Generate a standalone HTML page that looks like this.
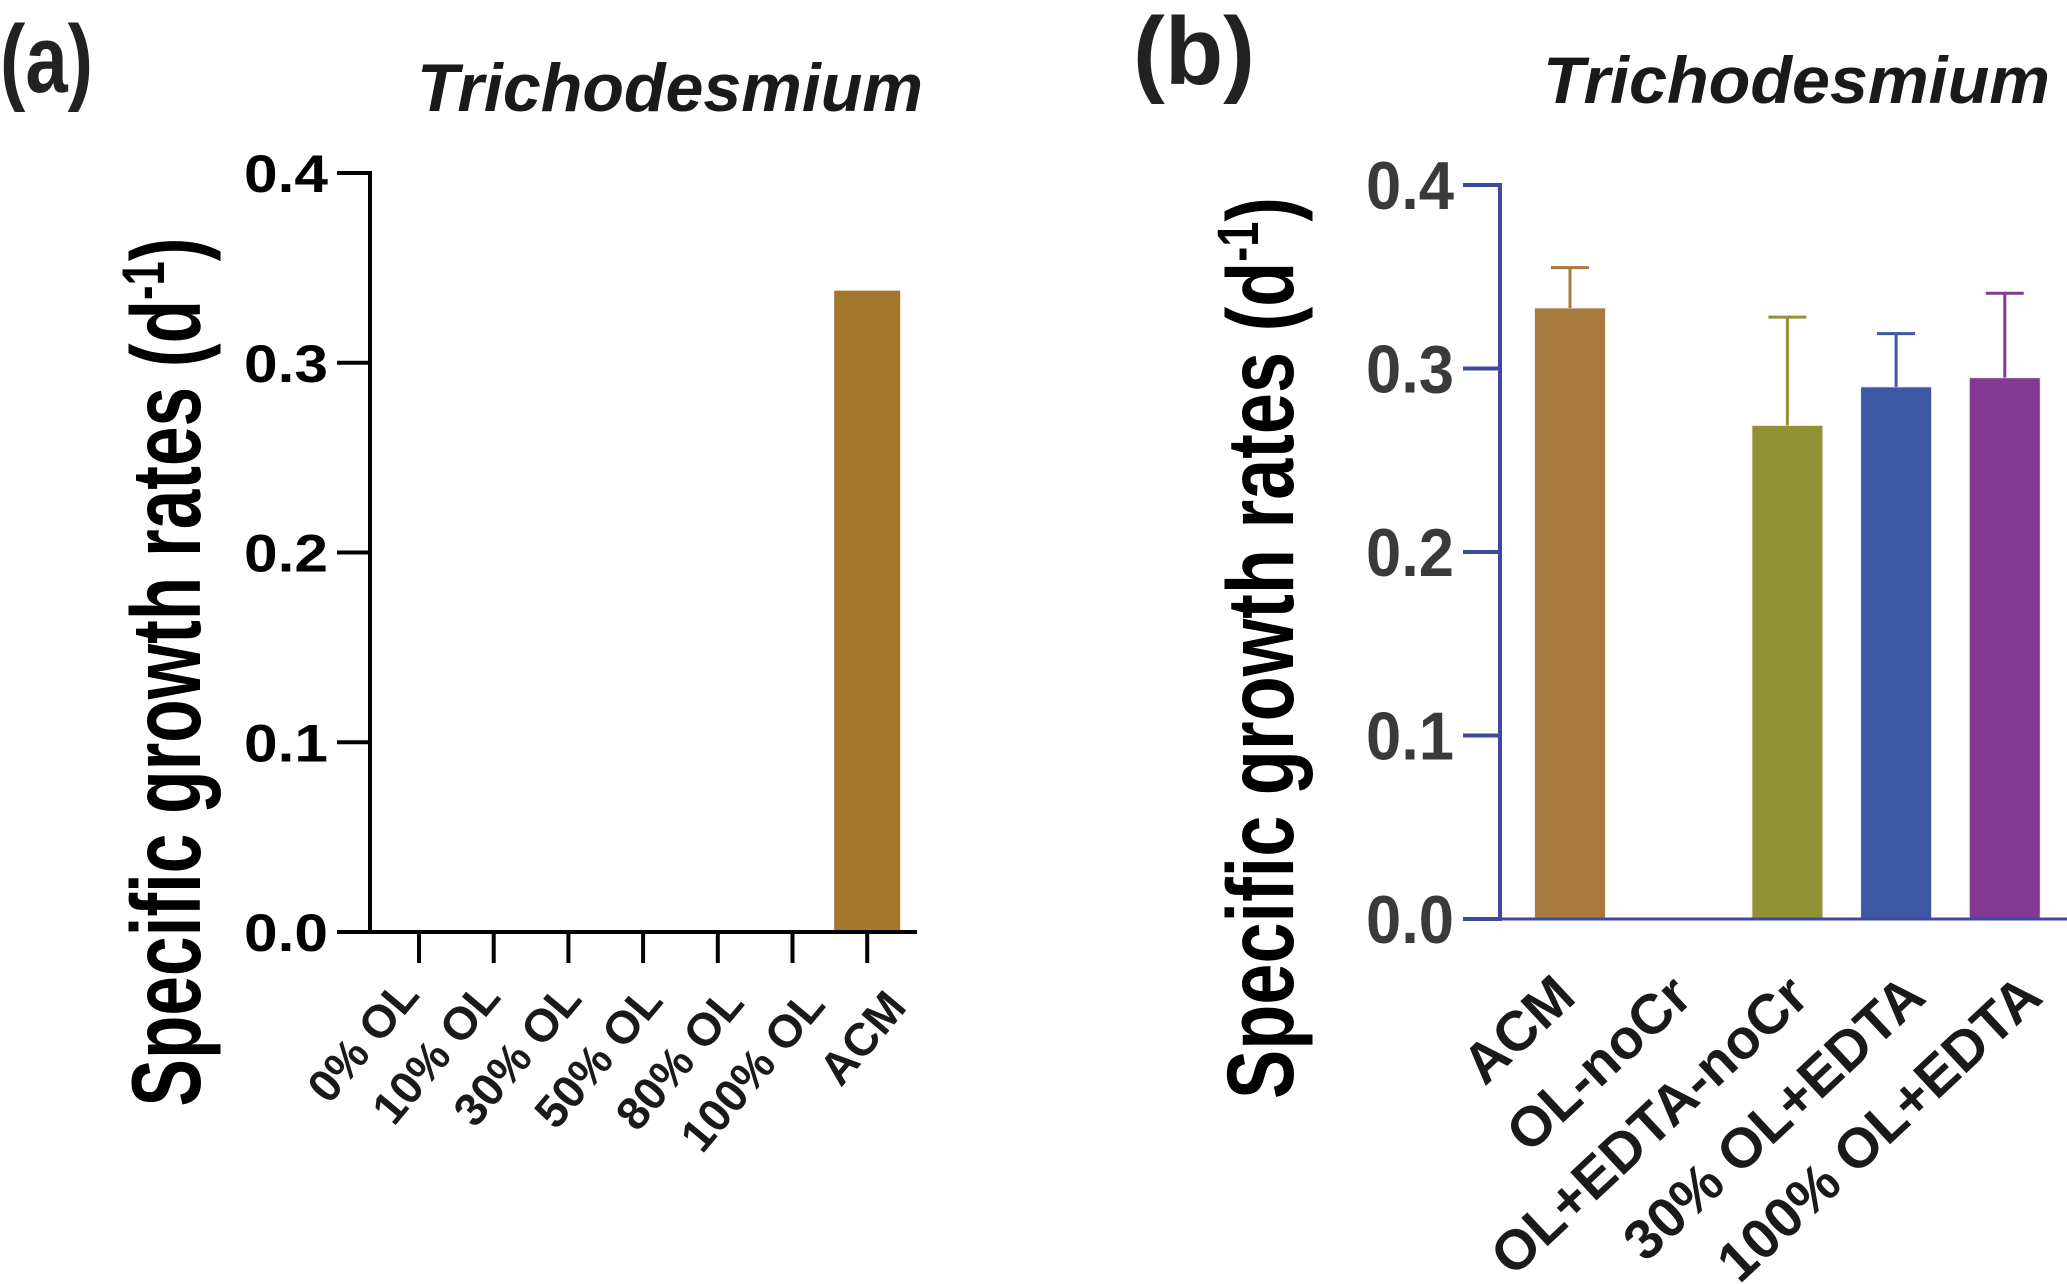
<!DOCTYPE html>
<html><head><meta charset="utf-8"><style>
html,body{margin:0;padding:0;background:#fff;}
svg{display:block;font-family:"Liberation Sans",sans-serif;}
</style></head><body>
<svg id="chart" width="2067" height="1284" viewBox="0 0 2067 1284" xmlns="http://www.w3.org/2000/svg">
<g id="pa"></g>
<g id="pb"></g>
</svg>
<script>
const catsA = ["0% OL","10% OL","30% OL","50% OL","80% OL","100% OL","ACM"];
const valsA = [0,0,0,0,0,0,0.338];
const catsB = ["ACM","OL-noCr","OL+EDTA-noCr","30% OL+EDTA","100% OL+EDTA"];
const valsB = [0.333,0,0.269,0.290,0.295];
const errB = [0.355,0,0.328,0.319,0.341];
const colorsB = ["#a87a3e","#929234","#929234","#3d58a4","#833a93"];
const ticks = [0,0.1,0.2,0.3,0.4];
const tickLabels = ["0.0","0.1","0.2","0.3","0.4"];
const NS="http://www.w3.org/2000/svg";
function mk(p,t,a,txt){const e=document.createElementNS(NS,t);for(const k in a)e.setAttribute(k,a[k]);if(txt!=null)e.textContent=txt;p.appendChild(e);return e;}

// Panel A
const pa=document.getElementById('pa');
const yA=v=>932-v/0.4*759;
const xA=i=>419+i*74.7;
let t=mk(pa,'text',{x:0,y:92,'font-size':96,'font-weight':'bold',fill:'#222',textLength:93,lengthAdjust:'spacingAndGlyphs'},'(a)');


t=mk(pa,'text',{x:417,y:111,'font-size':68,'font-weight':'bold','font-style':'italic',fill:'#1a1a1a',textLength:506,lengthAdjust:'spacingAndGlyphs'},'Trichodesmium');


t=mk(pa,'text',{transform:'translate(200,672) rotate(-90)','text-anchor':'middle','font-size':98,'font-weight':'bold',fill:'#000',textLength:869,lengthAdjust:'spacingAndGlyphs'});
t.innerHTML='Specific growth rates (d<tspan font-size="60" dy="-36">-1</tspan><tspan dy="36">)</tspan>';


valsA.forEach((v,i)=>{if(v>0){const b=mk(pa,'rect',{x:xA(i)-33,y:yA(v),width:66,height:yA(0)-yA(v),fill:'#a3762c'});

}});
let l=mk(pa,'line',{x1:370,y1:yA(0.4)-2,x2:370,y2:yA(0)+2,stroke:'#000','stroke-width':4});


l=mk(pa,'line',{x1:337,y1:yA(0),x2:917,y2:yA(0),stroke:'#000','stroke-width':4});


ticks.forEach((v,i)=>{mk(pa,'line',{x1:337,y1:yA(v),x2:370,y2:yA(v),stroke:'#000','stroke-width':4});
const tl=mk(pa,'text',{x:328,y:yA(v)+19,'text-anchor':'end','font-size':53,'font-weight':'bold',fill:'#000',textLength:84,lengthAdjust:'spacingAndGlyphs'},tickLabels[i]);

});
catsA.forEach((c,i)=>{mk(pa,'line',{x1:xA(i),y1:yA(0),x2:xA(i),y2:963,stroke:'#000','stroke-width':4});
const tl=mk(pa,'text',{transform:`translate(${xA(i)+2+i*6.5},${996+i*2}) rotate(-50)`,'text-anchor':'end','font-size':46,'font-weight':'bold',fill:'#1a1a1a'},c);

});

// Panel B
const pb=document.getElementById('pb');
const yB=v=>919-v/0.4*734;
const xB=i=>1570+i*108.7;
const axc='#3f4a9e';
t=mk(pb,'text',{x:1133,y:84,'font-size':96,'font-weight':'bold',fill:'#222',textLength:122,lengthAdjust:'spacingAndGlyphs'},'(b)');


t=mk(pb,'text',{x:1543,y:103,'font-size':66,'font-weight':'bold','font-style':'italic',fill:'#1a1a1a',textLength:507,lengthAdjust:'spacingAndGlyphs'},'Trichodesmium');


t=mk(pb,'text',{transform:'translate(1293,648) rotate(-90)','text-anchor':'middle','font-size':95,'font-weight':'bold',fill:'#000',textLength:902,lengthAdjust:'spacingAndGlyphs'});
t.innerHTML='Specific growth rates (d<tspan font-size="58" dy="-35">-1</tspan><tspan dy="35">)</tspan>';


valsB.forEach((v,i)=>{
 if(v>0){const b=mk(pb,'rect',{x:xB(i)-35.5,y:yB(v),width:71,height:yB(0)-yB(v),fill:colorsB[i],stroke:'#eee','stroke-width':1});
 
 
 const e=mk(pb,'path',{d:`M${xB(i)},${yB(v)} V${yB(errB[i])} M${xB(i)-19},${yB(errB[i])} H${xB(i)+19}`,stroke:colorsB[i],'stroke-width':3,fill:'none'});
 
 }
});
l=mk(pb,'line',{x1:1500,y1:yB(0.4)-2,x2:1500,y2:yB(0)+2,stroke:axc,'stroke-width':4});


l=mk(pb,'line',{x1:1463,y1:yB(0),x2:2067,y2:yB(0),stroke:axc,'stroke-width':3});


ticks.forEach((v,i)=>{mk(pb,'line',{x1:1463,y1:yB(v),x2:1500,y2:yB(v),stroke:axc,'stroke-width':4});
const tl=mk(pb,'text',{x:1454,y:yB(v)+24,'text-anchor':'end','font-size':68,'font-weight':'bold',fill:'#3a3a3a',textLength:88,lengthAdjust:'spacingAndGlyphs'},tickLabels[i]);

});
catsB.forEach((c,i)=>{
const tl=mk(pb,'text',{transform:`translate(${xB(i)+8+i*8},${1000}) rotate(-43)`,'text-anchor':'end','font-size':56,'font-weight':'bold',fill:'#1a1a1a'},c);

});
</script>
</body></html>
